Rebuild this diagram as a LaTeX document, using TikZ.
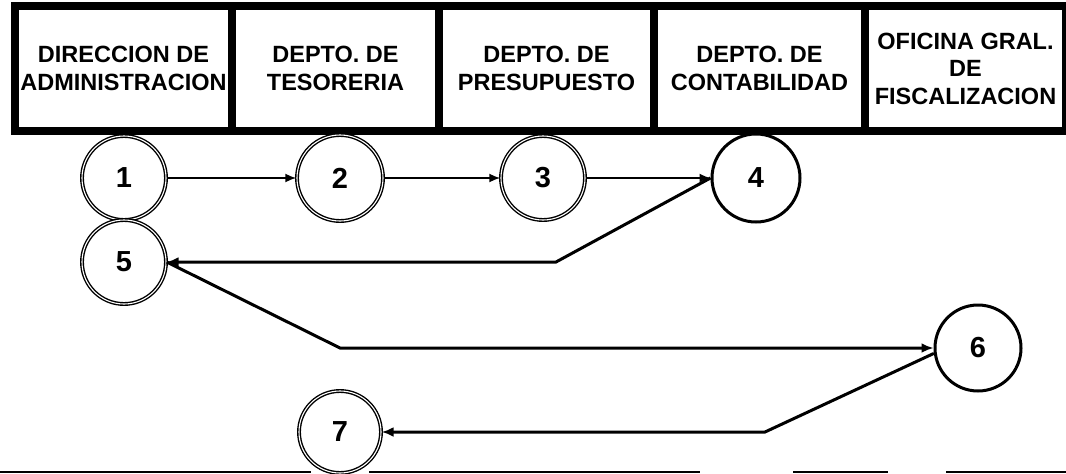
\documentclass[tikz,border=0pt]{standalone}
\usepackage{fontspec}
\setmainfont{Liberation Sans}
\usetikzlibrary{arrows.meta}
\begin{document}
\begin{tikzpicture}[x=1pt,y=-1pt,
  dept/.style={draw,line width=8pt,rectangle,inner sep=0pt,align=center,
    minimum height=125pt,font=\fontsize{23.5}{27.5}\selectfont\bfseries},
  num/.style={draw,circle,inner sep=0pt,font=\fontsize{29}{29}\selectfont\bfseries},
  dbl/.style={line width=1.4pt,double,double distance=1.1pt},
  sgl/.style={line width=3pt},
  thinarrow/.style={line width=1.8pt,-{Latex[length=11pt,width=9pt]}},
  thickarrow/.style={line width=3pt,-{Latex[length=12pt,width=10pt]}},
  baseline/.style={line width=2pt}
]
\useasboundingbox (0,0) rectangle (1066,474);
% header boxes
\node[dept,minimum width=217pt] (b1) at (123.5,68.5) {DIRECCION DE\\ADMINISTRACION};
\node[dept,minimum width=207pt] (b2) at (335.5,68.5) {DEPTO. DE\\TESORERIA};
\node[dept,minimum width=215pt] (b3) at (546.5,68.5) {DEPTO. DE\\PRESUPUESTO};
\node[dept,minimum width=211pt] (b4) at (759.5,68.5) {DEPTO. DE\\CONTABILIDAD};
\node[dept,minimum width=201pt] (b5) at (965.5,68.5) {OFICINA GRAL.\\DE\\FISCALIZACION};
% circles
\node[num,dbl,minimum size=84pt] (c1) at (124,178) {1};
\node[num,dbl,minimum size=86pt] (c2) at (340,178) {2};
\node[num,dbl,minimum size=84pt] (c3) at (543,178) {3};
\node[num,sgl,minimum size=88pt] (c4) at (756,178) {4};
\node[num,dbl,minimum size=84pt] (c5) at (124,262) {5};
\node[num,sgl,minimum size=86pt] (c6) at (978,348) {6};
\node[num,dbl,minimum size=82pt] (c7) at (340,432) {7};
% knees
\coordinate (k1) at (556,262);
\coordinate (k2) at (340,348);
\coordinate (k3) at (765,432);
% connectors
\draw[thinarrow] (c1.east) -- (c2.west);
\draw[thinarrow] (c2.east) -- (c3.west);
\draw[thinarrow] (c3.east) -- (c4.west);
\draw[thickarrow] (c4.west) -- (k1) -- (c5.east);
\draw[thickarrow] (c5.east) -- (k2) -- (c6.west);
\draw[thickarrow] (c6.187) -- (k3) -- (c7.east);
% bottom rule
\draw[baseline] (0,472) -- (c7.south west |- 0,472);
\draw[baseline] (c7.south east |- 0,472) -- (700,472);
\draw[baseline] (793,472) -- (888,472);
\draw[baseline] (946,472) -- (1066,472);
\end{tikzpicture}
\end{document}
